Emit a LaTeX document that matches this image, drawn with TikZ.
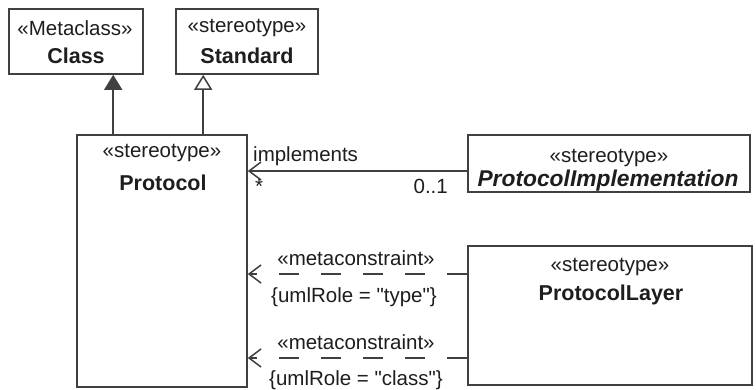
\documentclass[tikz,border=0pt]{standalone}
\usepackage{fontspec}
\setmainfont{Liberation Sans}[Ligatures=TeXOff]
\usetikzlibrary{arrows.meta}
\definecolor{ln}{HTML}{404040}
\definecolor{tx}{HTML}{1E1E1E}
\begin{document}
\begin{tikzpicture}[x=1pt,y=-1pt,
  box/.style={draw=ln,line width=1.6pt,fill=white,inner sep=0pt},
  st/.style={text=tx,inner sep=0pt,font=\fontsize{20.5}{24}\selectfont},
  nm/.style={text=tx,inner sep=0pt,font=\fontsize{21.5}{26}\selectfont\bfseries},
  lbl/.style={text=tx,inner sep=0pt,font=\fontsize{20.5}{24}\selectfont},
  conn/.style={draw=ln,line width=1.5pt},
  gen/.style={conn,-{Triangle[open,width=18pt,length=15pt,line width=1.5pt,fill=white]}},
  ext/.style={conn,-{Triangle[width=18pt,length=15pt,fill=ln]}},
  nav/.style={conn,-{Straight Barb[width=18pt,length=12pt,line width=1.5pt]}},
  dep/.style={nav,dash pattern=on 20pt off 22pt}
]
\useasboundingbox (0,0) rectangle (756,390);
\fill[white] (0,0) rectangle (756,390);

% boxes
\node[box,minimum width=134pt,minimum height=65pt] (class) at (76,41.5) {};
\node[box,minimum width=142pt,minimum height=65pt] (standard) at (247,41.5) {};
\node[box,minimum width=170pt,minimum height=252pt] (protocol) at (162,261) {};
\node[box,minimum width=282pt,minimum height=57pt] (pimpl) at (609,163.5) {};
\node[box,minimum width=284pt,minimum height=139pt] (player) at (610,315.5) {};

% box texts
\node[st] (classst) at (75,28) {«Metaclass»};
\node[nm] (classnm) at (76,56) {Class};
\node[st] (standardst) at (247,28) {«stereotype»};
\node[nm] (standardnm) at (247,56) {Standard};
\node[st] (protocolst) at (162,153) {«stereotype»};
\node[nm] (protocolnm) at (163,183) {Protocol};
\node[st] (pimplst) at (609,158) {«stereotype»};
\node[nm,font=\fontsize{22.8}{27}\selectfont\bfseries\itshape] (pimplnm) at (608,180.5) {ProtocolImplementation};
\node[st] (playerst) at (610,267) {«stereotype»};
\node[nm] (playernm) at (611,295) {ProtocolLayer};

% generalizations
\coordinate (pc) at ([xshift=37pt]protocol.north west);
\coordinate (ps) at ([xshift=127pt]protocol.north west);
\draw[ext] (pc) -- (pc |- class.south);
\draw[gen] (ps) -- (ps |- standard.south);

% implements
\coordinate (ip) at ([yshift=-7.5pt]pimpl.west);
\draw[nav] (ip) -- (ip -| protocol.east);
\node[lbl,anchor=west] (impl) at (253,156) {implements};
\node[lbl,anchor=west] (star) at (255,186) {*};
\node[lbl,anchor=east] (mult) at (448,186) {0..1};

% metaconstraints
\coordinate (d1) at ([yshift=41.5pt]player.west);
\coordinate (d2) at ([yshift=-42.5pt]player.west);
\draw[dep] (d1) -- (d1 -| protocol.east);
\draw[dep] (d2) -- (d2 -| protocol.east);
\node[lbl] (mc1) at (356,258) {«metaconstraint»};
\node[lbl] (ur1) at (354,297) {\{umlRole = "type"\}};
\node[lbl] (mc2) at (356,342) {«metaconstraint»};
\node[lbl] (ur2) at (356,380) {\{umlRole = "class"\}};
\end{tikzpicture}
\end{document}
